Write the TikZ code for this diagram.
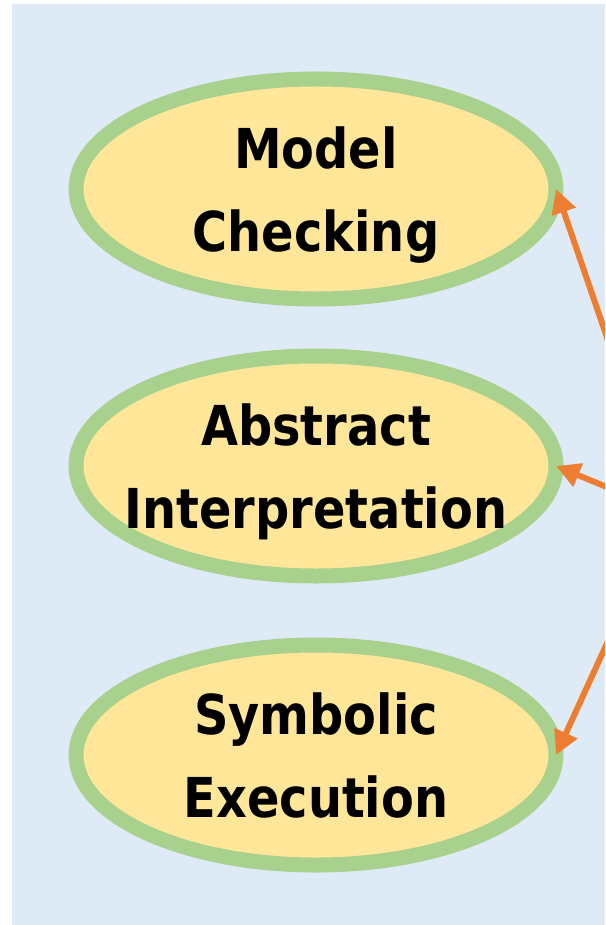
\documentclass[tikz,border=0pt]{standalone}
\usepackage{fontspec}
\newfontfamily\boxfont{DejaVu Sans}[FakeStretch=0.87]
\usetikzlibrary{shapes.geometric}
\usetikzlibrary{arrows.meta}
\definecolor{bgblue}{HTML}{DEEBF7}
\definecolor{fillyellow}{HTML}{FFE699}
\definecolor{rimgreen}{HTML}{A9D18E}
\definecolor{arrorange}{HTML}{ED7D31}

\begin{document}
\begin{tikzpicture}[x=1pt,y=-1pt,
    method/.style={ellipse, draw=rimgreen, fill=fillyellow, line width=15pt,
        minimum width=480pt, minimum height=220pt, inner sep=0pt, inner xsep=-80pt,
        outer sep=0pt, align=center, text depth=0pt,
        font=\boxfont\bfseries\fontsize{55}{83}\selectfont},
    link/.style={arrorange, line width=6pt, -{Triangle[length=24pt,width=24pt]}}]
    \useasboundingbox (0,0) rectangle (605,925);
    \fill[bgblue] (12,4) rectangle (605,925);
    \node[method] (mc) at (316,189) {Model\\Checking};
    \node[method] (ai) at (316,466) {Abstract\\Interpretation};
    \node[method] (se) at (316,755) {Symbolic\\Execution};
    \coordinate (src) at (667,512);
    \begin{scope}
        \clip (0,0) rectangle (605,925);
        \foreach \m in {mc, ai, se} {
            \draw[link] (src) -- (\m.east);
        }
    \end{scope}
\end{tikzpicture}
\end{document}
